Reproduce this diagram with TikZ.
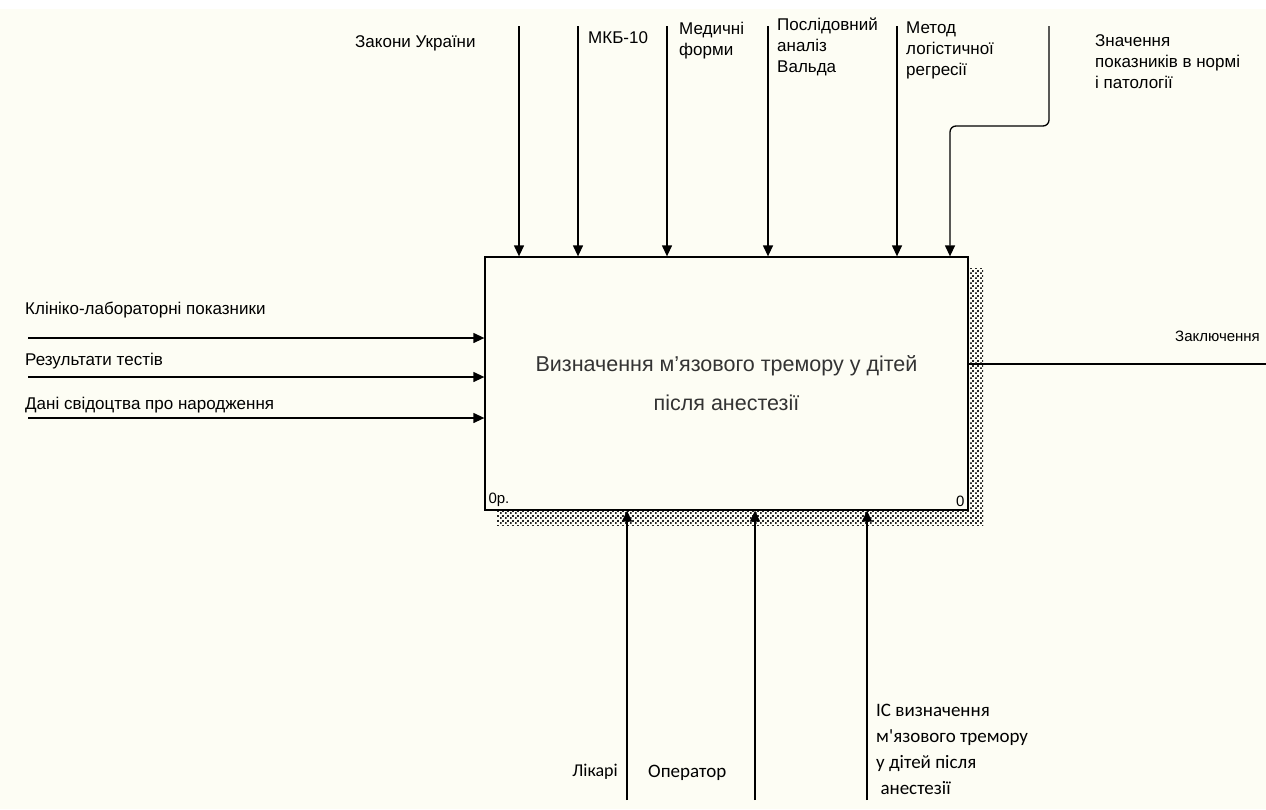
\documentclass[tikz,border=0pt]{standalone}
\usepackage{fontspec}
\setmainfont{Liberation Sans}
\newfontfamily\calfont{Carlito}
\usetikzlibrary{patterns,arrows.meta}
\definecolor{paper}{RGB}{253,253,244}
\pgfdeclarepatternformonly{shadowdots}{\pgfqpoint{0pt}{0pt}}{\pgfqpoint{5pt}{5pt}}{\pgfqpoint{5pt}{5pt}}%
{\pgfpathrectangle{\pgfqpoint{0pt}{0pt}}{\pgfqpoint{2pt}{2pt}}%
 \pgfpathrectangle{\pgfqpoint{2.5pt}{2.5pt}}{\pgfqpoint{2pt}{2pt}}\pgfusepath{fill}}
\begin{document}
\begin{tikzpicture}
[x=1pt,y=-1pt,
  lbl/.style={inner sep=0pt,font=\fontsize{17}{21}\selectfont,align=left},
  lblcal/.style={inner sep=0pt,font=\calfont\fontsize{19}{26}\selectfont,align=left},
  arrowdecorate/.style={->,>={Triangle[length=11pt,width=10pt]},line width=1.3pt},
  linedecorate/.style={line width=1.3pt}]
% page
\fill[paper] (0,0) rectangle (1266,809);
\fill[white] (0,0) rectangle (1266,9);
\clip (0,0) rectangle (1266,809);
% activity box with shadow
\fill[pattern=shadowdots,pattern color=black!85] (497,510) rectangle (983,525);
\fill[pattern=shadowdots,pattern color=black!85] (968,268) rectangle (983,525);
\node (box) at (726.5,383.5) [draw,line width=1.3pt,fill=paper,minimum width=483pt,minimum height=253pt,
  font=\fontsize{21.5}{39}\selectfont,text=black!80,align=center]
  {Визначення м'язового тремору у дітей\\після анестезії};
\node [anchor=south west,inner sep=4pt,font=\fontsize{15}{15}\selectfont] at (box.south west) {0р.};
\node [anchor=south east,inner sep=4pt,font=\fontsize{15}{15}\selectfont] at (box.south east) {0};
% controls (top)
\coordinate (c1) at (519,26);
\coordinate (c2) at (578,26);
\coordinate (c3) at (667,26);
\coordinate (c4) at (768,26);
\coordinate (c5) at (897,26);
\coordinate (c6) at (1049,26);
\coordinate (c6a) at (1049,126);
\coordinate (c6b) at (950,126);
\node (zakony) [lbl,anchor=west] at (355,43) {Закони України};
\node (mkb) [lbl,anchor=west] at (588,38) {МКБ-10};
\node (formy) [lbl,anchor=north west] at (679,22) {Медичні\\форми};
\node (vald) [lbl,anchor=north west] at (777,18) {Послідовний\\аналіз\\Вальда};
\node (regr) [lbl,anchor=north west] at (906,22) {Метод\\логістичної\\регресії};
\node (norma) [lbl,anchor=north west] at (1095,34) {Значення\\показників в нормі\\і патології};
% inputs (left)
\coordinate (i1) at (28,338);
\coordinate (i2) at (28,377);
\coordinate (i3) at (28,418);
\node (pokaz) [lbl,anchor=west] at (25,310) {Клініко-лабораторні показники};
\node (testy) [lbl,anchor=west] at (25,361) {Результати тестів};
\node (svid) [lbl,anchor=west] at (25,405) {Дані свідоцтва про народження};
% output (right)
\coordinate (o1) at (1266,364);
\node (zakl) [lbl,anchor=west,font=\fontsize{15}{18}\selectfont] at (1175,336) {Заключення};
% mechanisms (bottom)
\coordinate (m1) at (627,800);
\coordinate (m2) at (755,800);
\coordinate (m3) at (867,800);
\node (likari) [lblcal,anchor=east,font=\calfont\fontsize{18}{20}\selectfont] at (618,772) {Лікарі};
\node (oper) [lblcal,anchor=west] at (648,773) {Оператор};
\node (is) [lblcal,anchor=north west] at (876,704) {ІС визначення\\м'язового тремору\\у дітей після\\\ анестезії};
% edges or lines
\draw[arrowdecorate] (c1) -- (c1 |- box.north);
\draw[arrowdecorate] (c2) -- (c2 |- box.north);
\draw[arrowdecorate] (c3) -- (c3 |- box.north);
\draw[arrowdecorate] (c4) -- (c4 |- box.north);
\draw[arrowdecorate] (c5) -- (c5 |- box.north);
\draw[arrowdecorate,rounded corners=6pt] (c6) -- (c6a) -- (c6b) -- (c6b |- box.north);
\draw[arrowdecorate] (i1) -- (i1 -| box.west);
\draw[arrowdecorate] (i2) -- (i2 -| box.west);
\draw[arrowdecorate] (i3) -- (i3 -| box.west);
\draw[linedecorate] (o1 -| box.east) -- (o1);
\draw[arrowdecorate] (m1) -- (m1 |- box.south);
\draw[arrowdecorate] (m2) -- (m2 |- box.south);
\draw[arrowdecorate] (m3) -- (m3 |- box.south);
\end{tikzpicture}
\end{document}
